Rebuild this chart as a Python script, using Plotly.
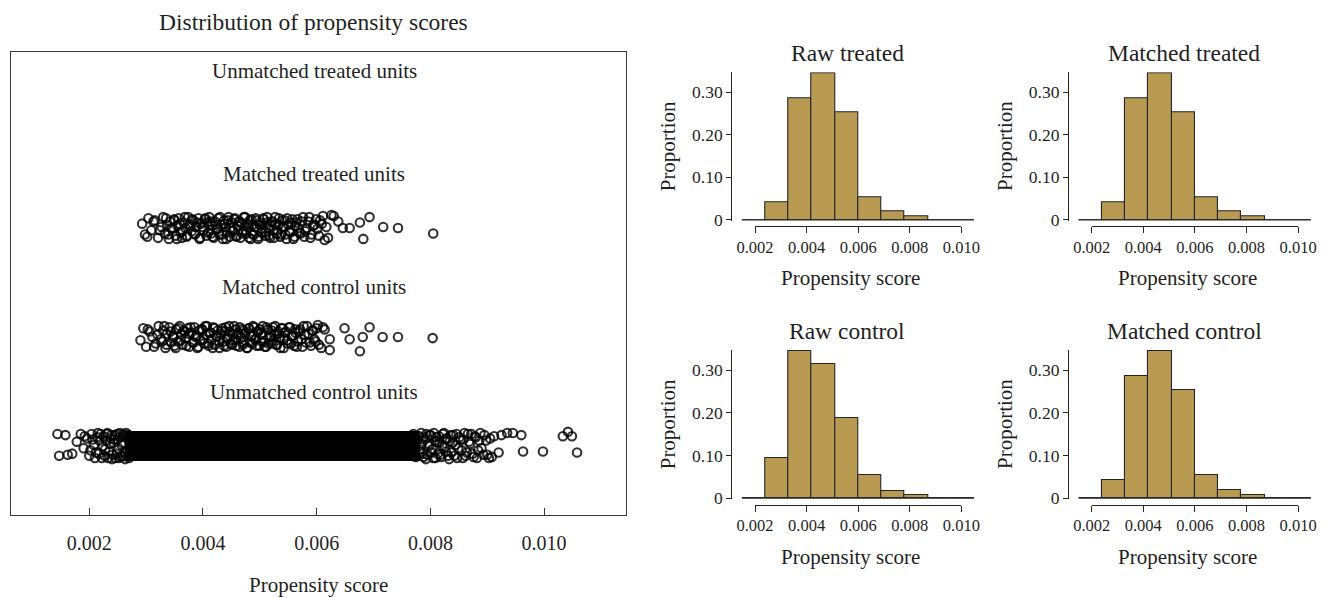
import plotly.graph_objects as go

# The page body has an 8px default margin, so the figure is 8px smaller
# and reference pixel positions are shifted by that offset.
PAGE_W, PAGE_H = 1330, 598
OFF = 8
W, H = PAGE_W - OFF, PAGE_H - OFF
FONT = "Liberation Serif"
INK = "#1f1f1f"

# ---------------- data ----------------
# Jitter plot (propensity scores, in units of 1e-3; jitter in row units)
matched_treated_score = [
    2.93, 2.98, 3.04, 3.09, 3.15, 3.21, 3.27, 3.30, 3.33, 3.37, 3.40, 3.42, 3.46, 3.49, 3.52, 3.55, 3.57, 3.61, 3.63, 3.66,
    3.69, 3.71, 3.74, 3.78, 3.80, 3.83, 3.86, 3.88, 3.92, 3.94, 3.97, 4.01, 4.03, 4.06, 4.08, 4.11, 4.14, 4.16, 4.19, 4.21,
    4.24, 4.27, 4.29, 4.32, 4.35, 4.37, 4.40, 4.42, 4.45, 4.47, 4.50, 4.53, 4.55, 4.58, 4.61, 4.63, 4.66, 4.68, 4.71, 4.74,
    4.76, 4.79, 4.82, 4.84, 4.87, 4.90, 4.93, 4.95, 4.98, 5.01, 5.04, 5.07, 5.10, 5.13, 5.16, 5.19, 5.22, 5.25, 5.28, 5.31,
    5.34, 5.37, 5.40, 5.44, 5.47, 5.50, 5.54, 5.57, 5.61, 5.64, 5.68, 5.72, 5.76, 5.80, 5.85, 5.89, 5.94, 5.99, 6.04, 6.09,
    6.14, 6.17, 6.26, 6.46, 6.58, 6.76, 6.82, 6.93, 7.17, 7.43, 8.05]
matched_treated_jitter = [
    0.04, -0.06, 0.09, -0.02, 0.07, -0.09, 0.01, 0.10, -0.05, 0.03, -0.10, 0.06, -0.01, 0.08, -0.07, 0.02, 0.09, -0.04, -0.09, 0.05,
    0.00, -0.08, 0.10, 0.03, -0.03, 0.07, -0.06, 0.01, 0.09, -0.10, 0.04, -0.02, 0.08, -0.07, 0.05, 0.10, -0.05, 0.02, -0.09, 0.06,
    -0.01, 0.09, -0.06, 0.03, -0.10, 0.07, 0.01, -0.04, 0.10, -0.08, 0.05, -0.02, 0.08, -0.07, 0.02, 0.06, -0.09, 0.04, -0.03, 0.10,
    -0.05, 0.01, 0.07, -0.10, 0.03, -0.06, 0.09, 0.00, -0.08, 0.05, -0.01, 0.08, -0.04, 0.10, -0.07, 0.02, 0.06, -0.09, 0.04, -0.02,
    0.09, -0.06, 0.01, 0.07, -0.10, 0.03, -0.04, 0.08, -0.08, 0.05, 0.00, -0.05, 0.10, -0.03, 0.06, -0.09, 0.02, 0.08, -0.07, 0.04,
    -0.11, 0.01, 0.12, 0.00, 0.00, 0.05, -0.10, 0.10, 0.01, 0.00, -0.05]
matched_treated_score_more = [
    3.02, 3.13, 3.24, 3.35, 3.39, 3.44, 3.50, 3.54, 3.59, 3.64, 3.68, 3.72, 3.76, 3.81, 3.85, 3.90, 3.95, 3.99, 4.04, 4.09,
    4.13, 4.17, 4.22, 4.26, 4.30, 4.34, 4.38, 4.41, 4.44, 4.48, 4.52, 4.56, 4.59, 4.62, 4.65, 4.69, 4.72, 4.75, 4.78, 4.81,
    4.85, 4.88, 4.91, 4.94, 4.97, 5.00, 5.03, 5.06, 5.09, 5.12, 5.15, 5.18, 5.21, 5.24, 5.27, 5.30, 5.33, 5.36, 5.39, 5.42,
    5.45, 5.48, 5.52, 5.55, 5.59, 5.62, 5.66, 5.70, 5.74, 5.78, 5.82, 5.87, 5.91, 5.96, 6.01, 6.06, 6.11, 6.20, 6.30, 6.38]
matched_treated_jitter_more = [
    -0.08, 0.06, -0.02, 0.09, -0.06, 0.00, 0.07, -0.10, 0.04, -0.03, 0.10, -0.07, 0.02, 0.08, -0.05, 0.05, -0.09, 0.01, 0.09, -0.04,
    0.06, -0.08, 0.03, -0.01, 0.10, -0.06, 0.04, -0.10, 0.07, 0.00, -0.03, 0.09, -0.08, 0.02, 0.06, -0.05, 0.10, -0.02, 0.04, -0.09,
    0.08, -0.06, 0.01, 0.07, -0.10, 0.03, -0.04, 0.09, -0.07, 0.05, 0.00, -0.09, 0.06, -0.02, 0.10, -0.05, 0.03, -0.08, 0.07, 0.01,
    -0.06, 0.09, -0.03, 0.05, -0.10, 0.02, 0.08, -0.04, 0.06, -0.08, 0.00, 0.10, -0.06, 0.03, -0.01, 0.07, 0.11, -0.09, 0.11, 0.06]

matched_control_score = [
    2.90, 2.95, 3.00, 3.06, 3.11, 3.17, 3.22, 3.26, 3.30, 3.34, 3.37, 3.41, 3.44, 3.47, 3.50, 3.53, 3.56, 3.59, 3.62, 3.64,
    3.68, 3.70, 3.73, 3.76, 3.79, 3.82, 3.85, 3.87, 3.90, 3.93, 3.96, 3.99, 4.02, 4.05, 4.07, 4.10, 4.13, 4.15, 4.18, 4.21,
    4.23, 4.26, 4.29, 4.31, 4.34, 4.36, 4.39, 4.41, 4.44, 4.46, 4.49, 4.52, 4.54, 4.57, 4.59, 4.62, 4.65, 4.67, 4.70, 4.72,
    4.75, 4.78, 4.80, 4.83, 4.86, 4.88, 4.91, 4.94, 4.97, 5.00, 5.03, 5.06, 5.09, 5.12, 5.15, 5.18, 5.21, 5.24, 5.27, 5.30,
    5.33, 5.36, 5.40, 5.43, 5.46, 5.49, 5.53, 5.56, 5.60, 5.63, 5.67, 5.71, 5.75, 5.79, 5.83, 5.88, 5.92, 5.96, 6.00, 6.04,
    6.11, 6.23, 6.23, 6.49, 6.58, 6.81, 6.93, 6.76, 7.16, 7.43, 8.04]
matched_control_jitter = [
    -0.03, 0.08, -0.09, 0.05, 0.00, -0.06, 0.10, -0.02, 0.06, -0.10, 0.03, 0.09, -0.05, 0.01, -0.08, 0.07, -0.04, 0.10, 0.02, -0.07,
    0.05, -0.01, 0.08, -0.09, 0.04, -0.05, 0.09, 0.00, -0.10, 0.06, -0.03, 0.07, -0.06, 0.02, 0.10, -0.08, 0.04, -0.02, 0.09, -0.07,
    0.01, 0.06, -0.10, 0.03, 0.08, -0.04, 0.05, -0.09, 0.00, 0.10, -0.06, 0.02, -0.03, 0.07, -0.08, 0.04, 0.09, -0.01, -0.07, 0.06,
    0.03, -0.10, 0.08, -0.05, 0.01, 0.10, -0.02, -0.08, 0.05, 0.07, -0.04, 0.02, -0.09, 0.09, -0.06, 0.00, 0.06, -0.03, 0.10, -0.07,
    0.03, -0.10, 0.08, -0.01, 0.05, -0.06, 0.09, 0.01, -0.08, 0.04, -0.04, 0.07, -0.09, 0.02, 0.10, -0.05, 0.06, -0.02, 0.08, -0.07,
    0.09, -0.02, -0.12, 0.08, -0.02, 0.00, 0.09, -0.13, 0.00, 0.00, -0.01]
matched_control_score_more = [
    3.03, 3.14, 3.20, 3.28, 3.32, 3.36, 3.43, 3.48, 3.52, 3.57, 3.61, 3.66, 3.71, 3.75, 3.78, 3.84, 3.89, 3.92, 3.97, 4.01,
    4.04, 4.09, 4.12, 4.17, 4.20, 4.25, 4.28, 4.33, 4.37, 4.40, 4.43, 4.47, 4.51, 4.55, 4.58, 4.61, 4.64, 4.68, 4.71, 4.74,
    4.77, 4.81, 4.84, 4.87, 4.90, 4.93, 4.96, 4.99, 5.02, 5.05, 5.08, 5.11, 5.14, 5.17, 5.20, 5.23, 5.26, 5.29, 5.32, 5.35,
    5.38, 5.42, 5.45, 5.48, 5.51, 5.55, 5.58, 5.62, 5.65, 5.69, 5.73, 5.77, 5.81, 5.86, 5.90, 5.94, 5.98, 6.02, 6.08, 6.14]
matched_control_jitter_more = [
    0.07, -0.09, 0.02, -0.04, 0.10, -0.07, 0.05, 0.00, -0.10, 0.08, -0.03, 0.06, -0.08, 0.03, 0.09, -0.05, 0.01, -0.09, 0.07, -0.02,
    0.10, -0.06, 0.04, -0.10, 0.08, 0.00, -0.04, 0.06, -0.08, 0.09, -0.01, 0.05, -0.07, 0.10, -0.03, 0.02, -0.09, 0.07, -0.05, 0.04,
    -0.10, 0.08, 0.01, -0.06, 0.09, -0.02, 0.05, -0.08, 0.03, 0.10, -0.04, -0.09, 0.07, 0.00, -0.06, 0.09, 0.02, -0.07, 0.05, -0.01,
    0.08, -0.10, 0.04, -0.03, 0.09, -0.06, 0.01, 0.07, -0.09, 0.05, -0.02, 0.10, -0.05, 0.03, -0.08, 0.06, -0.04, 0.11, -0.10, 0.07]

# unmatched control: range of the solid core, plus the sparser edges
unmatched_control_core = [2.62, 7.82]
unmatched_control_score = [
    1.44, 1.47, 1.58, 1.70, 1.78, 1.85, 1.90, 1.96, 2.00, 2.04, 2.08, 2.12, 2.15, 2.18, 2.22, 2.25, 2.28, 2.31, 2.33, 2.36,
    2.39, 2.41, 2.44, 2.46, 2.49, 2.51, 2.53, 2.56, 2.58, 2.60, 2.62,
    7.80, 7.83, 7.85, 7.88, 7.90, 7.93, 7.95, 7.98, 8.00, 8.03, 8.05, 8.08, 8.10, 8.13, 8.16, 8.19, 8.22, 8.25, 8.28, 8.31,
    8.34, 8.37, 8.40, 8.44, 8.47, 8.51, 8.55, 8.58, 8.62, 8.66, 8.70, 8.74, 8.78, 8.82, 8.86, 8.90, 8.95, 9.00, 9.05, 9.08,
    9.20, 9.25, 9.35, 9.45, 9.60, 9.63, 9.98, 10.33, 10.42, 10.49, 10.58]
unmatched_control_jitter = [
    0.11, -0.09, 0.10, -0.07, 0.04, 0.11, -0.02, 0.07, -0.09, 0.11, 0.01, -0.06, 0.12, 0.05, -0.11, 0.09, -0.03, 0.11, -0.11, 0.02,
    0.10, -0.08, 0.06, -0.11, 0.11, -0.02, 0.08, -0.10, 0.03, 0.11, -0.06,
    0.09, -0.05, 0.02, -0.10, 0.06, 0.11, -0.08, 0.00, 0.10, -0.03, -0.11, 0.05, 0.08, -0.07, 0.03, -0.10, 0.11, -0.01, 0.07, -0.09,
    0.04, -0.06, 0.10, 0.01, -0.11, 0.08, -0.04, 0.06, -0.09, 0.11, 0.02, -0.07, 0.09, -0.11, 0.05, -0.02, 0.10, -0.08, 0.07, -0.10,
    -0.06, 0.10, 0.12, 0.12, 0.10, -0.05, -0.05, 0.09, 0.13, 0.09, -0.06]
unmatched_control_score_more = [
    1.62, 1.92, 2.02, 2.06, 2.10, 2.14, 2.17, 2.20, 2.24, 2.27, 2.30, 2.32, 2.35, 2.38, 2.40, 2.43, 2.45, 2.48, 2.50, 2.52,
    2.54, 2.57, 2.59, 2.61, 2.63, 2.65, 2.67, 2.69, 2.70, 2.72,
    7.70, 7.74, 7.77, 7.81, 7.84, 7.87, 7.89, 7.92, 7.96, 7.99, 8.02, 8.06, 8.09, 8.12, 8.15, 8.18, 8.21, 8.24, 8.27, 8.30,
    8.33, 8.36, 8.39, 8.42, 8.46, 8.49, 8.53, 8.57, 8.60, 8.64, 8.68, 8.72, 8.76, 8.80, 8.84, 8.88, 8.93, 8.98, 9.03, 9.12]
unmatched_control_jitter_more = [
    -0.08, 0.09, -0.04, 0.06, -0.11, 0.08, -0.07, 0.11, 0.00, -0.09, 0.05, 0.12, -0.05, 0.07, -0.12, 0.03, 0.10, -0.07, 0.06, -0.11,
    0.12, 0.01, -0.09, 0.09, -0.12, 0.12, -0.04, 0.10, -0.11, 0.07,
    0.11, -0.10, 0.05, -0.03, 0.12, -0.07, 0.08, -0.12, 0.02, 0.10, -0.06, 0.12, -0.11, 0.04, 0.09, -0.08, 0.00, 0.12, -0.05, 0.07,
    -0.12, 0.10, 0.03, -0.09, 0.11, -0.02, 0.06, -0.11, 0.12, -0.06, 0.04, 0.11, -0.10, 0.08, -0.04, 0.12, -0.08, 0.05, -0.11, 0.09]

group_names = ["Unmatched control units", "Matched control units",
               "Matched treated units", "Unmatched treated units"]
group_rows = [1, 2, 3, 4]

# Histograms (proportions per bin)
bin_edges = [0.0015, 0.0024, 0.0033, 0.0042, 0.0051, 0.0060, 0.0069, 0.0078, 0.0087, 0.0096, 0.0105]
hist_titles = ["Raw treated", "Matched treated", "Raw control", "Matched control"]
raw_treated = [0.0, 0.041, 0.286, 0.345, 0.253, 0.052, 0.020, 0.008, 0.0, 0.0]
matched_treated = [0.0, 0.041, 0.286, 0.345, 0.253, 0.052, 0.020, 0.008, 0.0, 0.0]
raw_control = [0.0, 0.095, 0.345, 0.314, 0.188, 0.055, 0.016, 0.008, 0.0, 0.0]
matched_control = [0.0, 0.042, 0.286, 0.344, 0.253, 0.053, 0.020, 0.008, 0.0, 0.0]

x_ticks = [0.002, 0.004, 0.006, 0.008, 0.010]
x_ticktext = ["0.002", "0.004", "0.006", "0.008", "0.010"]
y_ticks = [0, 0.1, 0.2, 0.3]
y_ticktext = ["0", "0.10", "0.20", "0.30"]

# ---------------- helpers (reference-pixel -> paper) ----------------
def fx(px):
    return (px - OFF) / W

def fy(py):
    return 1 - (py - OFF) / H

def note(text, x, y, size, yref="paper", angle=0):
    return dict(x=x, y=y, xref="paper", yref=yref, text=text, showarrow=False,
                xanchor="center", yanchor="middle", textangle=angle,
                font=dict(family=FONT, size=size, color=INK))

fig = go.Figure()
layout = {}

# ---------------- left panel: jitter plot ----------------
SCALE = 1e-3
marker = dict(symbol="circle-open", size=8.5, color="rgba(0,0,0,0.8)", line=dict(width=2.1))

def add_group(scores, jitters, row):
    fig.add_trace(go.Scatter(
        x=[v * SCALE for v in scores], y=[row + j for j in jitters],
        mode="markers", marker=marker, xaxis="x", yaxis="y",
        showlegend=False, hoverinfo="skip"))

fig.add_trace(go.Scatter(
    x=[v * SCALE for v in unmatched_control_core], y=[group_rows[0]] * 2,
    mode="lines", line=dict(color="black", width=30), xaxis="x", yaxis="y",
    hoverinfo="skip", showlegend=False))
add_group(unmatched_control_score + unmatched_control_score_more,
          unmatched_control_jitter + unmatched_control_jitter_more, group_rows[0])
add_group(matched_control_score + matched_control_score_more,
          matched_control_jitter + matched_control_jitter_more, group_rows[1])
add_group(matched_treated_score + matched_treated_score_more,
          matched_treated_jitter + matched_treated_jitter_more, group_rows[2])

layout["xaxis"] = dict(
    domain=[fx(11), fx(626)], range=[0.000623, 0.011441], anchor="y", automargin=False,
    showline=True, mirror=True, linecolor="#3a3a3a", linewidth=1.3,
    ticks="inside", ticklen=7, tickcolor="#3a3a3a", tickwidth=1.2,
    tickvals=x_ticks, ticktext=x_ticktext, showgrid=False, zeroline=False,
    tickfont=dict(family=FONT, size=20, color=INK), ticklabelstandoff=10)
layout["yaxis"] = dict(
    domain=[fy(515), fy(52)], range=[0.367, 4.615], anchor="x", automargin=False,
    showline=True, mirror=True, linecolor="#3a3a3a", linewidth=1.3,
    showticklabels=False, ticks="", showgrid=False, zeroline=False)

annotations = []
label_offsets = [0.5, 0.46, 0.5, 0.44]
for name, row, off in zip(group_names, group_rows, label_offsets):
    annotations.append(note(name, fx(314), row + off, 21, yref="y"))
annotations.append(note("Distribution of propensity scores", fx(313), fy(22), 23.5))
annotations.append(note("Propensity score", fx(318), fy(585), 21))

# ---------------- right panels: histograms ----------------
BAR_COLOR = "#B89A52"
hist_data = [raw_treated, matched_treated, raw_control, matched_control]
col_left = [732.3, 1069.0]
row_bottom = [220.7, 499.0]
row_top = [72.3, 350.1]
row_xaxis = [226.0, 504.5]
PX_PER_UNIT = 25800.0
X0 = 0.00112
X1 = 0.0105
centers = [(a + b) / 2 for a, b in zip(bin_edges[:-1], bin_edges[1:])]
widths = [b - a for a, b in zip(bin_edges[:-1], bin_edges[1:])]

for k, (title, vals) in enumerate(zip(hist_titles, hist_data)):
    r, c = divmod(k, 2)
    ax = k + 2           # bar axes 2..5
    tax = k + 6          # tick axes 6..9
    xl = col_left[c]
    xr = xl + (X1 - X0) * PX_PER_UNIT
    fig.add_trace(go.Bar(
        x=centers, y=vals, width=widths, xaxis=f"x{ax}", yaxis=f"y{ax}",
        marker=dict(color=BAR_COLOR, line=dict(color="#262626", width=1.1)),
        showlegend=False, hoverinfo="skip"))
    fig.add_trace(go.Scatter(
        x=[bin_edges[0], bin_edges[-1]], y=[0, 0], mode="lines",
        line=dict(color="#262626", width=1.3), xaxis=f"x{ax}", yaxis=f"y{ax}",
        showlegend=False, hoverinfo="skip", cliponaxis=False))
    fig.add_trace(go.Scatter(
        x=[x_ticks[0]], y=[0], mode="markers", marker=dict(opacity=0),
        xaxis=f"x{tax}", yaxis=f"y{ax}", showlegend=False, hoverinfo="skip"))
    layout[f"xaxis{ax}"] = dict(
        domain=[fx(xl), fx(xr)], range=[X0, X1], anchor=f"y{ax}", automargin=False,
        showline=False, showticklabels=False, ticks="", showgrid=False, zeroline=False)
    layout[f"yaxis{ax}"] = dict(
        domain=[fy(row_bottom[r]), fy(row_top[r])], range=[-0.002, 0.347], anchor=f"x{ax}",
        automargin=False, showline=True, linecolor="#262626", linewidth=1.2,
        ticks="outside", ticklen=5, tickcolor="#262626", tickwidth=1.1,
        tickvals=y_ticks, ticktext=y_ticktext, showgrid=False, zeroline=False,
        tickfont=dict(family=FONT, size=17.5, color=INK))
    txl = xl + (x_ticks[0] - X0) * PX_PER_UNIT
    txr = xl + (x_ticks[-1] - X0) * PX_PER_UNIT
    layout[f"xaxis{tax}"] = dict(
        domain=[fx(txl), fx(txr)], range=[x_ticks[0], x_ticks[-1]], anchor="free",
        position=fy(row_xaxis[r]), automargin=False,
        showline=True, linecolor="#262626", linewidth=1.2,
        ticks="outside", ticklen=6, tickcolor="#262626", tickwidth=1.1,
        tickvals=x_ticks, ticktext=x_ticktext, showgrid=False, zeroline=False,
        tickfont=dict(family=FONT, size=16.5, color=INK))
    cx = (xl + xr) / 2 - 6
    annotations.append(note(title, fx(cx), fy([52.7, 330.7][r]), 23.5))
    annotations.append(note("Proportion", fx(xl - 64), fy([146, 424][r]), 21, angle=-90))
    annotations.append(note("Propensity score", fx(cx + 3), fy([278.3, 556.7][r]), 21))

fig.update_layout(
    width=W, height=H, margin=dict(l=0, r=0, t=0, b=0, pad=0), autosize=False,
    paper_bgcolor="white", plot_bgcolor="rgba(0,0,0,0)",
    showlegend=False, bargap=0, annotations=annotations,
    font=dict(family=FONT, color=INK),
    **layout)

fig.write_html("out.html")
